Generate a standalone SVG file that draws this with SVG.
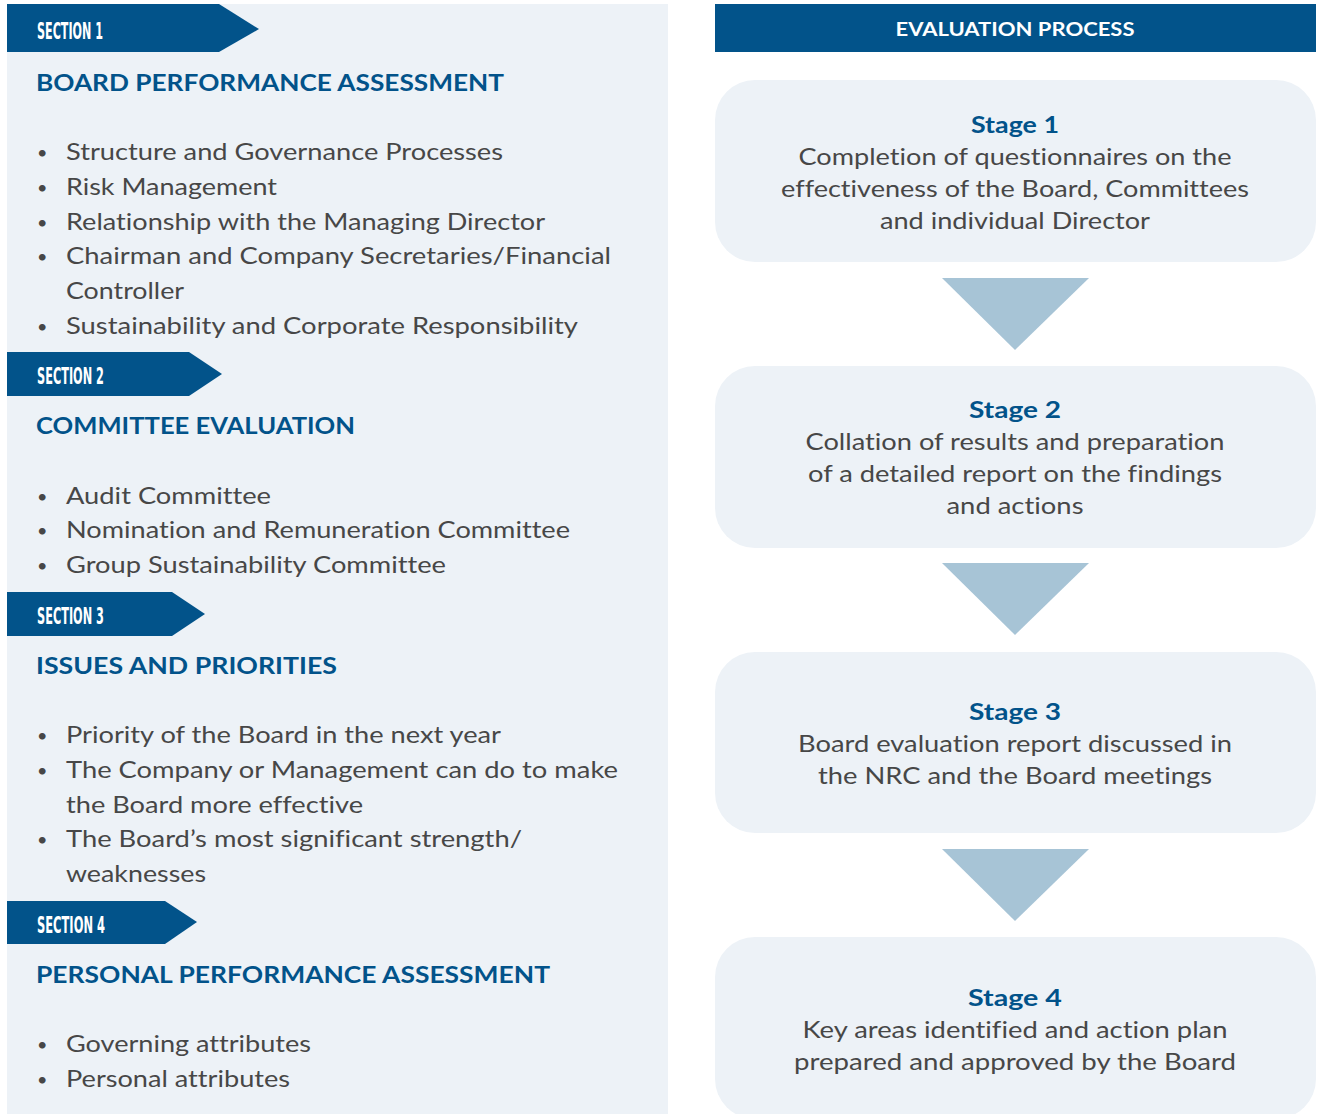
<svg xmlns="http://www.w3.org/2000/svg" width="1318" height="1114" viewBox="0 0 1318 1114">
<style>
text{font-variant-ligatures:none}
.panel{fill:#edf2f7}
.banner{fill:#02538a}
.sec{font-family:"DejaVu Sans Condensed","DejaVu Sans",sans-serif;font-weight:bold;font-size:23px;fill:#ffffff}
.head{font-family:Lato,"Liberation Sans",sans-serif;font-weight:bold;font-size:22px;fill:#02538a}
.item{font-family:Lato,"Liberation Sans",sans-serif;font-size:23px;fill:#474747}
.dot{font-family:Lato,"Liberation Sans",sans-serif;font-size:18px;fill:#474747}
.box{fill:#edf2f7}
.title{font-family:Lato,"Liberation Sans",sans-serif;font-weight:bold;font-size:23px;fill:#02538a;text-anchor:middle}
.body{font-family:Lato,"Liberation Sans",sans-serif;font-size:23px;fill:#474747;text-anchor:middle}
.hdr{font-family:Lato,"Liberation Sans",sans-serif;font-weight:bold;font-size:18px;fill:#ffffff;text-anchor:middle}
.arrow{fill:#a7c4d6}
</style>
<rect width="1318" height="1114" fill="#ffffff"/>
<rect class="panel" x="7" y="4" width="661" height="1110"/>

<g id="section1">
<polygon class="banner" points="7,4 219,4 259,29 219,52 7,52"/>
<text class="sec" x="37" y="39" textLength="66" lengthAdjust="spacingAndGlyphs">SECTION 1</text>
<text class="head" x="36" y="91" textLength="468" lengthAdjust="spacingAndGlyphs">BOARD PERFORMANCE ASSESSMENT</text>
<g class="item">
<text class="dot" x="37" y="159">•</text><text x="66" y="160" textLength="437" lengthAdjust="spacingAndGlyphs">Structure and Governance Processes</text>
<text class="dot" x="37" y="194">•</text><text x="66" y="195" textLength="211" lengthAdjust="spacingAndGlyphs">Risk Management</text>
<text class="dot" x="37" y="229">•</text><text x="66" y="230" textLength="479" lengthAdjust="spacingAndGlyphs">Relationship with the Managing Director</text>
<text class="dot" x="37" y="263">•</text><text x="66" y="264" textLength="545" lengthAdjust="spacingAndGlyphs">Chairman and Company Secretaries/Financial</text>
<text x="66" y="299" textLength="118" lengthAdjust="spacingAndGlyphs">Controller</text>
<text class="dot" x="37" y="333">•</text><text x="66" y="334" textLength="512" lengthAdjust="spacingAndGlyphs">Sustainability and Corporate Responsibility</text>
</g>
</g>

<g id="section2">
<polygon class="banner" points="7,352 189,352 222,374 189,396 7,396"/>
<text class="sec" x="37" y="384" textLength="67" lengthAdjust="spacingAndGlyphs">SECTION 2</text>
<text class="head" x="36" y="434" textLength="319" lengthAdjust="spacingAndGlyphs">COMMITTEE EVALUATION</text>
<g class="item">
<text class="dot" x="37" y="503">•</text><text x="66" y="504" textLength="205" lengthAdjust="spacingAndGlyphs">Audit Committee</text>
<text class="dot" x="37" y="537">•</text><text x="66" y="538" textLength="504" lengthAdjust="spacingAndGlyphs">Nomination and Remuneration Committee</text>
<text class="dot" x="37" y="572">•</text><text x="66" y="573" textLength="380" lengthAdjust="spacingAndGlyphs">Group Sustainability Committee</text>
</g>
</g>

<g id="section3">
<polygon class="banner" points="7,592 172,592 205,614 172,636 7,636"/>
<text class="sec" x="37" y="624" textLength="67" lengthAdjust="spacingAndGlyphs">SECTION 3</text>
<text class="head" x="36" y="674" textLength="301" lengthAdjust="spacingAndGlyphs">ISSUES AND PRIORITIES</text>
<g class="item">
<text class="dot" x="37" y="742">•</text><text x="66" y="743" textLength="435" lengthAdjust="spacingAndGlyphs">Priority of the Board in the next year</text>
<text class="dot" x="37" y="777">•</text><text x="66" y="778" textLength="552" lengthAdjust="spacingAndGlyphs">The Company or Management can do to make</text>
<text x="66" y="813" textLength="297" lengthAdjust="spacingAndGlyphs">the Board more effective</text>
<text class="dot" x="37" y="846">•</text><text x="66" y="847" textLength="456" lengthAdjust="spacingAndGlyphs">The Board’s most significant strength/</text>
<text x="66" y="882" textLength="140" lengthAdjust="spacingAndGlyphs">weaknesses</text>
</g>
</g>

<g id="section4">
<polygon class="banner" points="7,901 165,901 197,922 165,944 7,944"/>
<text class="sec" x="37" y="933" textLength="68" lengthAdjust="spacingAndGlyphs">SECTION 4</text>
<text class="head" x="36" y="983" textLength="514" lengthAdjust="spacingAndGlyphs">PERSONAL PERFORMANCE ASSESSMENT</text>
<g class="item">
<text class="dot" x="37" y="1051">•</text><text x="66" y="1052" textLength="245" lengthAdjust="spacingAndGlyphs">Governing attributes</text>
<text class="dot" x="37" y="1086">•</text><text x="66" y="1087" textLength="224" lengthAdjust="spacingAndGlyphs">Personal attributes</text>
</g>
</g>

<g id="header">
<rect class="banner" x="715" y="4" width="601" height="48"/>
<text class="hdr" x="1015" y="36" textLength="239" lengthAdjust="spacingAndGlyphs">EVALUATION PROCESS</text>
</g>

<g id="stage1">
<rect class="box" x="715" y="80" width="601" height="182" rx="40"/>
<text class="title" x="1015" y="133" textLength="88" lengthAdjust="spacingAndGlyphs">Stage 1</text>
<text class="body" x="1015" y="165" textLength="433" lengthAdjust="spacingAndGlyphs">Completion of questionnaires on the</text>
<text class="body" x="1015" y="197" textLength="468" lengthAdjust="spacingAndGlyphs">effectiveness of the Board, Committees</text>
<text class="body" x="1015" y="229" textLength="270" lengthAdjust="spacingAndGlyphs">and individual Director</text>
</g>

<g id="stage2">
<rect class="box" x="715" y="366" width="601" height="182" rx="40"/>
<text class="title" x="1015" y="418" textLength="92" lengthAdjust="spacingAndGlyphs">Stage 2</text>
<text class="body" x="1015" y="450" textLength="419" lengthAdjust="spacingAndGlyphs">Collation of results and preparation</text>
<text class="body" x="1015" y="482" textLength="414" lengthAdjust="spacingAndGlyphs">of a detailed report on the findings</text>
<text class="body" x="1015" y="514" textLength="137" lengthAdjust="spacingAndGlyphs">and actions</text>
</g>

<g id="stage3">
<rect class="box" x="715" y="652" width="601" height="181" rx="40"/>
<text class="title" x="1015" y="720" textLength="92" lengthAdjust="spacingAndGlyphs">Stage 3</text>
<text class="body" x="1015" y="752" textLength="434" lengthAdjust="spacingAndGlyphs">Board evaluation report discussed in</text>
<text class="body" x="1015" y="784" textLength="394" lengthAdjust="spacingAndGlyphs">the NRC and the Board meetings</text>
</g>

<g id="stage4">
<rect class="box" x="715" y="937" width="601" height="182" rx="40"/>
<text class="title" x="1015" y="1006" textLength="94" lengthAdjust="spacingAndGlyphs">Stage 4</text>
<text class="body" x="1015" y="1038" textLength="425" lengthAdjust="spacingAndGlyphs">Key areas identified and action plan</text>
<text class="body" x="1015" y="1070" textLength="442" lengthAdjust="spacingAndGlyphs">prepared and approved by the Board</text>
</g>

<g id="connectors">
<polygon class="arrow" points="942,278 1089,278 1015,350"/>
<polygon class="arrow" points="942,563 1089,563 1015,635"/>
<polygon class="arrow" points="942,849 1089,849 1015,921"/>
</g>
</svg>
